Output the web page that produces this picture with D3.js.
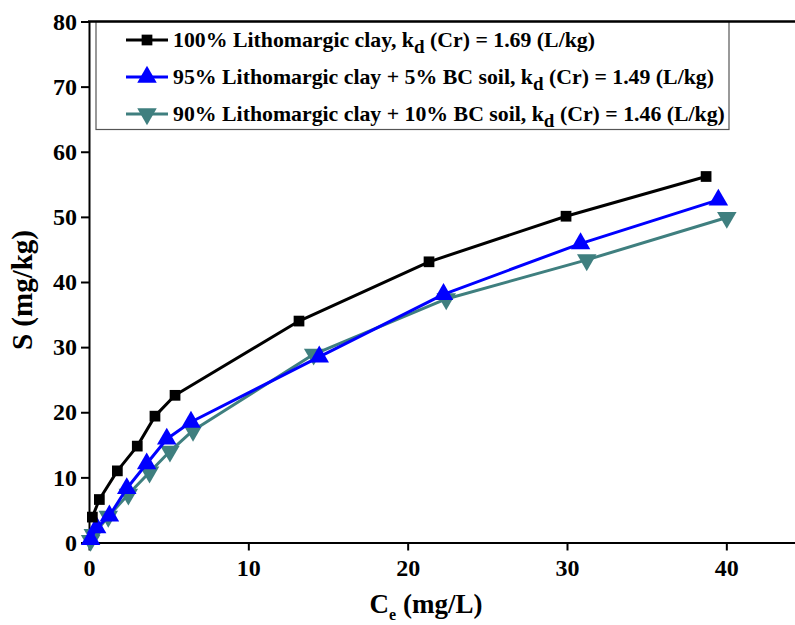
<!DOCTYPE html>
<html>
<head>
<meta charset="utf-8">
<script src="https://cdn.jsdelivr.net/npm/d3@7/dist/d3.min.js"></script>
<style>
  html, body { margin: 0; padding: 0; background: #fff; }
  svg { display: block; }
  text { font-family: "Liberation Serif", "Times New Roman", serif; font-weight: bold; fill: #000; }
</style>
</head>
<body>
<svg id="chart" width="795" height="625"></svg>
<script>
// Sorption isotherms of Cr: equilibrium concentration Ce (mg/L) vs sorbed amount S (mg/kg)
const seriesNames = [
  "100% Lithomargic clay",
  "95% Lithomargic clay + 5% BC soil",
  "90% Lithomargic clay + 10% BC soil"
];
const kdValues = ["1.69", "1.49", "1.46"];
const seriesColors = ["#000000", "#0000ff", "#3f7f7f"];
const seriesMarkers = ["square", "triangleUp", "triangleDown"];

const ceClay100 = [0.21, 0.65, 1.78, 3.03, 4.14, 5.40, 13.18, 21.34, 29.94, 38.73];
const sClay100  = [3.9, 6.6, 11.0, 14.8, 19.4, 22.6, 34.0, 43.1, 50.1, 56.2];

const ceClay95 = [0.10, 0.48, 1.28, 2.37, 3.62, 4.88, 6.40, 14.45, 22.25, 30.85, 39.50];
const sClay95  = [0.5, 2.3, 4.1, 8.3, 12.1, 15.9, 18.5, 28.5, 38.1, 45.9, 52.6];

const ceClay90 = [0.10, 0.27, 1.21, 2.47, 3.80, 5.08, 6.53, 14.10, 22.42, 31.24, 40.03];
const sClay90  = [0.3, 1.2, 4.0, 7.4, 10.8, 14.0, 17.2, 28.9, 37.4, 43.4, 49.9];

const xTicks = [0, 10, 20, 30, 40];
const yTicks = [0, 10, 20, 30, 40, 50, 60, 70, 80];

const series = [
  { ce: ceClay100, s: sClay100 },
  { ce: ceClay95, s: sClay95 },
  { ce: ceClay90, s: sClay90 }
].map((d, i) => ({
  name: seriesNames[i], kd: kdValues[i], color: seriesColors[i], marker: seriesMarkers[i],
  points: d.ce.map((c, j) => ({ x: c, y: d.s[j] }))
}));

const svg = d3.select("#chart");
const plotLeft = 89, plotRight = 806, plotTop = 21.5, plotBottom = 542.5;

const x = d3.scaleLinear().domain([0, 45]).range([plotLeft, plotRight]);
const y = d3.scaleLinear().domain([0, 80]).range([plotBottom, plotTop]);

// axes
const xAxis = svg.append("g")
  .attr("transform", `translate(0,${plotBottom})`)
  .call(d3.axisBottom(x).tickValues(xTicks).tickSize(8).tickSizeOuter(0).tickPadding(5));
const yAxis = svg.append("g")
  .attr("transform", `translate(${plotLeft},0)`)
  .call(d3.axisLeft(y).tickValues(yTicks).tickSize(8).tickSizeOuter(0).tickPadding(4));

[xAxis, yAxis].forEach(g => {
  g.select(".domain").attr("stroke", "#000").attr("stroke-width", 2);
  g.selectAll(".tick line").attr("stroke", "#000").attr("stroke-width", 2);
  g.selectAll(".tick text")
    .style("font-family", "'Liberation Serif', serif")
    .style("font-weight", "bold")
    .style("font-size", "24px")
    .attr("fill", "#000");
});
xAxis.selectAll(".tick text").attr("dy", "0.85em");

// series lines
const line = d3.line().x(d => x(d.x)).y(d => y(d.y));

const markerPath = {
  square: d3.symbol(d3.symbolSquare, 115)(),
  triangleUp: d3.symbol(d3.symbolTriangle, 165)(),
  triangleDown: d3.symbol(d3.symbolTriangle, 165)()
};
function drawMarker(g, type, color, cx, cy) {
  g.append("path")
    .attr("d", markerPath[type])
    .attr("transform", `translate(${cx},${cy})` + (type === "triangleDown" ? " rotate(180)" : ""))
    .attr("fill", color);
}

// draw from back to front: teal, blue, black
[2, 1, 0].forEach(i => {
  const s = series[i];
  const g = svg.append("g");
  g.append("path")
    .datum(s.points)
    .attr("d", line)
    .attr("fill", "none")
    .attr("stroke", s.color)
    .attr("stroke-width", 3)
    .attr("stroke-linejoin", "round");
  s.points.forEach(p => drawMarker(g, s.marker, s.color, x(p.x), y(p.y)));
});

// legend
const legend = svg.append("g");
legend.append("rect")
  .attr("x", 96).attr("y", plotTop).attr("width", 633).attr("height", 108)
  .attr("fill", "#fff").attr("stroke", "#555").attr("stroke-width", 1.2);

// top frame line
svg.append("line")
  .attr("x1", plotLeft - 1).attr("x2", 795)
  .attr("y1", plotTop).attr("y2", plotTop)
  .attr("stroke", "#000").attr("stroke-width", 2.5);

const rowY = [40, 77, 114];
series.forEach((s, i) => {
  const ry = rowY[i];
  legend.append("line")
    .attr("x1", 126).attr("x2", 168).attr("y1", ry).attr("y2", ry)
    .attr("stroke", s.color).attr("stroke-width", 3);
  drawMarker(legend, s.marker, s.color, 147, ry);
  const t = legend.append("text")
    .attr("x", 173).attr("y", ry + 7)
    .style("font-size", "21.8px");
  t.append("tspan").text(`${s.name}, k`);
  t.append("tspan").attr("dy", 6).style("font-size", "19px").text("d");
  t.append("tspan").attr("dy", -6).text(` (Cr) = ${s.kd} (L/kg)`);
});

// axis titles
const xt = svg.append("text")
  .attr("x", 426).attr("y", 613)
  .attr("text-anchor", "middle")
  .style("font-size", "27px");
xt.append("tspan").text("C");
xt.append("tspan").attr("dy", 7).style("font-size", "16px").text("e");
xt.append("tspan").attr("dy", -7).text(" (mg/L)");

svg.append("text")
  .attr("transform", "translate(32,290) rotate(-90)")
  .attr("text-anchor", "middle")
  .style("font-size", "29px")
  .text("S (mg/kg)");
</script>
</body>
</html>
